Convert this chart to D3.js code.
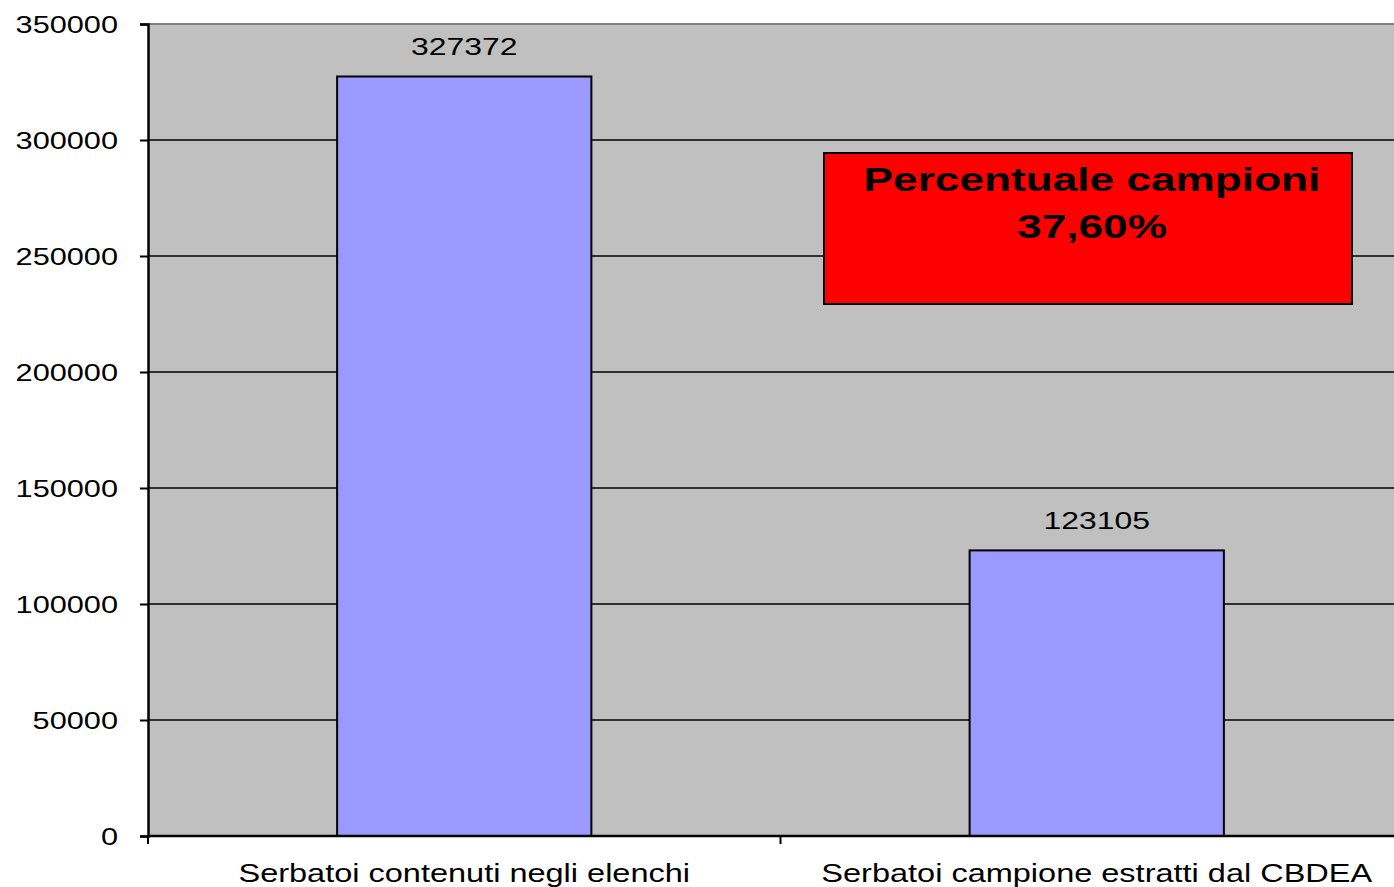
<!DOCTYPE html>
<html><head><meta charset="utf-8">
<script src="https://cdn.jsdelivr.net/npm/d3@7"></script>
<style>body{margin:0;background:#fff}svg{display:block}text{font-family:"Liberation Sans",Arial,sans-serif}</style>
</head><body><svg id="c" width="1394" height="887"></svg>
<script>
const categories = ["Serbatoi contenuti negli elenchi", "Serbatoi campione estratti dal CBDEA"];
const values = [327372, 123105];
const yTicks = [0, 50000, 100000, 150000, 200000, 250000, 300000, 350000];
const annotationLines = ["Percentuale campioni", "37,60%"];

const svg = d3.select("#c");
const L = 148, T = 24, B = 836, R = 1413;
const x = d3.scaleBand().domain(categories).range([L, R]).paddingInner(0.598).paddingOuter(0.299);
const y = d3.scaleLinear().domain([0, 350000]).range([B, T]);
const SX = 1.28;

svg.append("rect").attr("x", L).attr("y", T).attr("width", R - L).attr("height", B - T).attr("fill", "#C0C0C0");
svg.append("g").selectAll("line").data(yTicks.filter(d => d > 0 && d < 350000)).join("line")
  .attr("x1", L).attr("x2", R).attr("y1", d => y(d)).attr("y2", d => y(d))
  .attr("stroke", "#000").attr("stroke-width", 1.5);
svg.append("line").attr("x1", L).attr("x2", R).attr("y1", T).attr("y2", T).attr("stroke", "#808080").attr("stroke-width", 2);

svg.append("g").selectAll("rect").data(values).join("rect")
  .attr("x", (d, i) => x(categories[i])).attr("width", x.bandwidth())
  .attr("y", d => y(d)).attr("height", d => B - y(d))
  .attr("fill", "#9999FF").attr("stroke", "#000").attr("stroke-width", 2);

svg.append("g").selectAll("text").data(values).join("text")
  .attr("transform", (d, i) => `translate(${x(categories[i]) + x.bandwidth() / 2},${y(d) - 21}) scale(1.33,1)`)
  .attr("text-anchor", "middle").attr("font-size", 24).attr("fill", "#000").text(d => d);

const ya = svg.append("g").attr("transform", `translate(${L},0)`)
  .call(d3.axisLeft(y).tickValues(yTicks).tickSize(8).tickPadding(22).tickFormat(d => d));
ya.select(".domain").attr("stroke", "#000").attr("stroke-width", 2.5);
ya.selectAll(".tick line").attr("stroke", "#000").attr("stroke-width", 2);
ya.selectAll(".tick text").attr("x", 0).attr("transform", `translate(-30,1) scale(${SX},1)`)
  .attr("font-size", 24).attr("font-family", "Liberation Sans, Arial, sans-serif").attr("fill", "#000");

svg.append("line").attr("x1", L).attr("x2", R).attr("y1", B).attr("y2", B).attr("stroke", "#000").attr("stroke-width", 2.5);
const xt = [L, L + x.step(), L + 2 * x.step()];
svg.append("g").selectAll("line").data(xt).join("line")
  .attr("x1", d => d).attr("x2", d => d).attr("y1", B).attr("y2", B + 8).attr("stroke", "#000").attr("stroke-width", 2);
svg.append("g").selectAll("text").data(categories).join("text")
  .attr("transform", d => `translate(${x(d) + x.bandwidth() / 2},882) scale(1.25,1)`)
  .attr("text-anchor", "middle").attr("font-size", 26).attr("fill", "#000").text(d => d);

const bx = 824, by = 153, bw = 528, bh = 151;
svg.append("rect").attr("x", bx).attr("y", by).attr("width", bw).attr("height", bh)
  .attr("fill", "#FF0000").attr("stroke", "#000").attr("stroke-width", 2);
svg.append("g").selectAll("text").data(annotationLines).join("text")
  .attr("transform", (d, i) => `translate(${bx + bw / 2 + 4},${191 + i * 47}) scale(1.3,1)`)
  .attr("text-anchor", "middle").attr("font-size", 34).attr("font-weight", "bold").attr("fill", "#000").text(d => d);
</script></body></html>
